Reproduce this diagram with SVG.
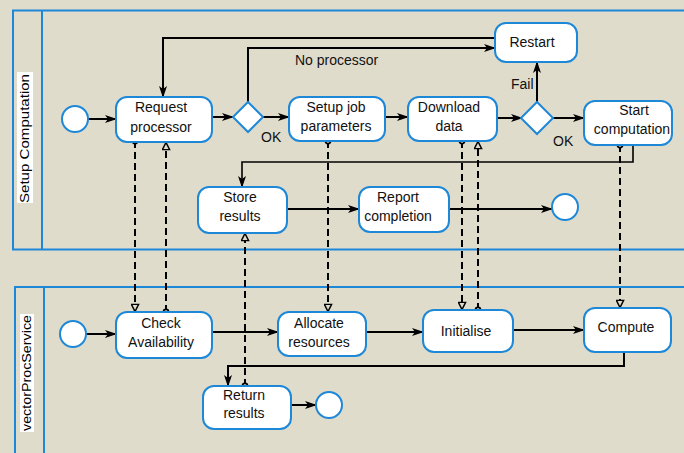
<svg xmlns="http://www.w3.org/2000/svg" width="684" height="453" viewBox="0 0 684 453">
<defs>
<style>
.pool{fill:none;stroke:#1E88D8;stroke-width:2}
.node{fill:#fff;stroke:#1E88D8;stroke-width:2}
.ev{fill:#fff;stroke:#1E88D8;stroke-width:2}
.gw{fill:#fff;stroke:#1E88D8;stroke-width:2}
.t{font-family:"Liberation Sans",Arial,sans-serif;font-size:14px;fill:#111;text-anchor:middle}
.lbl{font-family:"Liberation Sans",Arial,sans-serif;font-size:14px;fill:#111}
.pl{font-family:"Liberation Sans",Arial,sans-serif;font-size:12px;fill:#000}
.seq{fill:none;stroke:#000;stroke-width:2;marker-end:url(#arr)}
.msg{fill:none;stroke:#000;stroke-width:2;stroke-dasharray:7,4;marker-start:url(#dot);marker-end:url(#tri)}
</style>
<marker id="arr" viewBox="0 0 12 10" refX="11" refY="5" markerWidth="12" markerHeight="10" markerUnits="userSpaceOnUse" orient="auto"><path d="M0,1 L12,5 L0,9 L3,5 z" fill="#000"/></marker>
<marker id="tri" viewBox="0 0 10 10" refX="9.5" refY="5" markerWidth="9" markerHeight="9" markerUnits="userSpaceOnUse" orient="auto"><path d="M1,1 L9,5 L1,9 z" fill="#E0DCCC" stroke="#000" stroke-width="1.6"/></marker>
<marker id="dot" viewBox="0 0 8 8" refX="4" refY="4" markerWidth="8" markerHeight="8" markerUnits="userSpaceOnUse"><circle cx="4" cy="4" r="2.6" fill="#fff" stroke="#000" stroke-width="1.6"/></marker>
</defs>
<rect x="0" y="0" width="684" height="453" fill="#E0DCCC"/>

<g id="pool1">
<rect class="pool" x="13" y="10.5" width="700" height="239"/>
<line class="pool" x1="42" y1="10.5" x2="42" y2="249.5"/>
<rect x="17" y="72" width="16" height="131" fill="#fff"/>
<text class="pl" transform="translate(29,203) rotate(-90)" textLength="129" lengthAdjust="spacingAndGlyphs">Setup Computation</text>
</g>
<g id="pool2">
<rect class="pool" x="15" y="287" width="700" height="200"/>
<line class="pool" x1="44" y1="287" x2="44" y2="453"/>
<rect x="20" y="314" width="14" height="118" fill="#fff"/>
<text class="pl" transform="translate(31,431) rotate(-90)" textLength="116" lengthAdjust="spacingAndGlyphs">vectorProcService</text>
</g>

<g id="connectors">
<path class="seq" d="M88,119 L116,119"/>
<path class="seq" d="M212,117 L233,117"/>
<path class="seq" d="M263,117 L289,117"/>
<path class="seq" d="M248,102 L248,48 L495,48"/>
<path class="seq" d="M495,38 L163,38 L163,97"/>
<path class="seq" d="M385,117 L408,117"/>
<path class="seq" d="M497,118 L522,118"/>
<path class="seq" d="M553,118 L584,118"/>
<path class="seq" d="M537,102 L537,62"/>
<path class="seq" d="M633,145 L633,162 L242,162 L242,187" style="stroke-width:1.6"/>
<path class="seq" d="M287,209 L359,209"/>
<path class="seq" d="M449,209 L552,209"/>
<path class="seq" d="M86,334 L116,334"/>
<path class="seq" d="M212,332 L278,332"/>
<path class="seq" d="M366,332 L423,332"/>
<path class="seq" d="M513,330 L584,330"/>
<path class="seq" d="M624,352 L624,366 L228,366 L228,386"/>
<path class="seq" d="M291,405 L316,405"/>
<path class="msg" d="M135,141 L135,312"/>
<path class="msg" d="M166,312 L166,142"/>
<path class="msg" d="M328,141 L328,312"/>
<path class="msg" d="M462,141 L462,310"/>
<path class="msg" d="M478,310 L478,141"/>
<path class="msg" d="M620,145 L620,308"/>
<path class="msg" d="M245,386 L245,233"/>
<text class="lbl" x="295" y="65">No processor</text>
<text class="lbl" x="261" y="142">OK</text>
<text class="lbl" x="553" y="146">OK</text>
<text class="lbl" x="511" y="89">Fail</text>
</g>

<g id="start1"><circle class="ev" cx="75" cy="119" r="13"/></g>
<g id="requestProcessor"><rect class="node" x="116" y="97" width="96" height="45" rx="11"/><text class="t" x="161" y="112">Request</text><text class="t" x="161" y="132">processor</text></g>
<g id="gateway1"><path class="gw" d="M248,102 L263,117 L248,132 L233,117 z"/></g>
<g id="setupJob"><rect class="node" x="289" y="97" width="96" height="44" rx="11"/><text class="t" x="336" y="112">Setup job</text><text class="t" x="336" y="131">parameters</text></g>
<g id="downloadData"><rect class="node" x="408" y="97" width="89" height="44" rx="11"/><text class="t" x="449" y="112">Download</text><text class="t" x="449" y="131">data</text></g>
<g id="gateway2"><path class="gw" d="M537,102 L553,118 L537,134 L521,118 z"/></g>
<g id="restart"><rect class="node" x="495" y="23" width="82" height="39" rx="11"/><text class="t" x="532" y="47">Restart</text></g>
<g id="startComputation"><rect class="node" x="584" y="101" width="88" height="44" rx="11"/><text class="t" x="634" y="115">Start</text><text class="t" x="632" y="134">computation</text></g>
<g id="storeResults"><rect class="node" x="198" y="187" width="89" height="46" rx="11"/><text class="t" x="240" y="202">Store</text><text class="t" x="240" y="221">results</text></g>
<g id="reportCompletion"><rect class="node" x="359" y="187" width="90" height="45" rx="11"/><text class="t" x="398" y="202">Report</text><text class="t" x="398" y="221">completion</text></g>
<g id="end1"><circle class="ev" cx="565" cy="207" r="13"/></g>

<g id="start2"><circle class="ev" cx="73" cy="334" r="13"/></g>
<g id="checkAvailability"><rect class="node" x="116" y="312" width="96" height="46" rx="11"/><text class="t" x="161" y="328">Check</text><text class="t" x="161" y="347">Availability</text></g>
<g id="allocateResources"><rect class="node" x="278" y="312" width="88" height="44" rx="11"/><text class="t" x="319" y="328">Allocate</text><text class="t" x="319" y="347">resources</text></g>
<g id="initialise"><rect class="node" x="423" y="310" width="90" height="42" rx="11"/><text class="t" x="466" y="336">Initialise</text></g>
<g id="compute"><rect class="node" x="584" y="308" width="87" height="44" rx="11"/><text class="t" x="626" y="332">Compute</text></g>
<g id="returnResults"><rect class="node" x="203" y="386" width="88" height="43" rx="11"/><text class="t" x="244" y="400">Return</text><text class="t" x="244" y="418">results</text></g>
<g id="end2"><circle class="ev" cx="329" cy="405" r="13"/></g>
</svg>
